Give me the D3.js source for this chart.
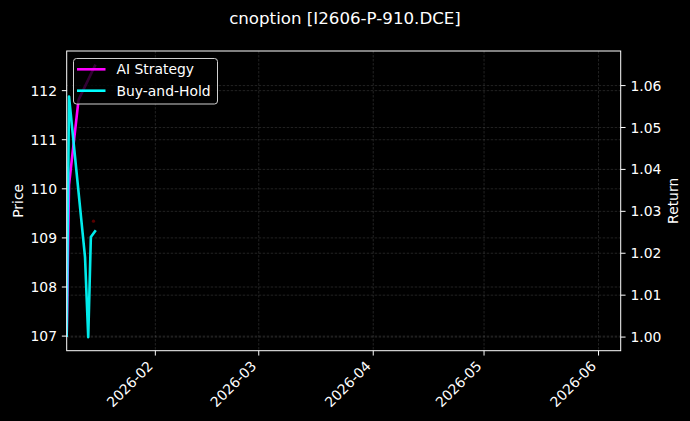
<!DOCTYPE html>
<html><head><meta charset="utf-8">
<script src="https://cdn.jsdelivr.net/npm/d3@7"></script>
<style>html,body{margin:0;padding:0;background:#000;}svg{display:block;font-family:"DejaVu Sans",sans-serif;}</style>
</head><body><svg id="c" width="690" height="421"></svg>
<script>
const chartTitle = "cnoption [I2606-P-910.DCE]";
const seriesNames = ["AI Strategy", "Buy-and-Hold"];
const seriesColors = ["#ff00ff", "#00ffff"];
const xDomainDates = ["2026-01-08T00:00:00Z", "2026-06-07T00:00:00Z"];

const priceDates = ["2026-01-08T00:00:00Z","2026-01-08T15:00:00Z","2026-01-12T23:00:00Z","2026-01-13T20:00:00Z","2026-01-14T13:00:00Z","2026-01-15T06:00:00Z"];
const priceValues = [107.0, 112.53, 109.6, 106.98, 109.0, 109.34];

const aiDates = ["2026-01-08T00:00:00Z","2026-01-08T15:00:00Z","2026-01-11T05:00:00Z","2026-01-15T19:00:00Z"];
const aiValues = [1.0000, 1.0363, 1.0566, 1.0650];

const bhDates = ["2026-01-08T00:00:00Z","2026-01-08T15:00:00Z","2026-01-12T23:00:00Z","2026-01-13T20:00:00Z","2026-01-14T13:00:00Z","2026-01-15T21:00:00Z"];
const bhValues = [1.0000, 1.0574, 1.0191, 1.0000, 1.0239, 1.0255];

const signalDates = ["2026-01-15T06:00:00Z"];
const signalPrices = [109.34];

const priceTicks = [107, 108, 109, 110, 111, 112];
const returnTicks = [1.00, 1.01, 1.02, 1.03, 1.04, 1.05, 1.06];

const W = 690, H = 421;
const m = {left: 66.7, right: 620.7, top: 51, bottom: 350.7};
const svg = d3.select("#c");
svg.append("rect").attr("width", W).attr("height", H).attr("fill", "#000");

const x = d3.scaleUtc().domain(xDomainDates.map(d => new Date(d))).range([m.left, m.right]);
function padded(vals){ const e = d3.extent(vals); const p = (e[1]-e[0])*0.05; return [e[0]-p, e[1]+p]; }
const yL = d3.scaleLinear().domain(padded(priceValues)).range([m.bottom, m.top]);
const yR = d3.scaleLinear().domain(padded(aiValues.concat(bhValues))).range([m.bottom, m.top]);

const monthTicks = d3.utcMonth.every(1).range(x.domain()[0], x.domain()[1]).filter(d => d > x.domain()[0]);

// grid
const grid = svg.append("g").attr("stroke", "#808080").attr("stroke-opacity", 0.45).attr("stroke-width", 0.6).attr("stroke-dasharray", "2.5,1.5");
monthTicks.forEach(t => grid.append("line").attr("x1", x(t)).attr("x2", x(t)).attr("y1", m.top).attr("y2", m.bottom));
priceTicks.forEach(t => grid.append("line").attr("x1", m.left).attr("x2", m.right).attr("y1", yL(t)).attr("y2", yL(t)));
returnTicks.forEach(t => grid.append("line").attr("x1", m.left).attr("x2", m.right).attr("y1", yR(t)).attr("y2", yR(t)));

const clip = svg.append("clipPath").attr("id", "clp").append("rect").attr("x", m.left).attr("y", m.top).attr("width", m.right-m.left).attr("height", m.bottom-m.top);
const plot = svg.append("g").attr("clip-path", "url(#clp)");

const lineL = d3.line().x(d => x(d[0])).y(d => yL(d[1]));
const lineR = d3.line().x(d => x(d[0])).y(d => yR(d[1]));
const zip = (ds, vs) => ds.map((d, i) => [new Date(d), vs[i]]);

plot.append("path").datum(zip(priceDates, priceValues)).attr("d", lineL).attr("fill", "none").attr("stroke", "#000").attr("stroke-width", 2);
plot.selectAll("circle.sig").data(zip(signalDates, signalPrices)).enter().append("circle").attr("class", "sig")
  .attr("cx", d => x(d[0])).attr("cy", d => yL(d[1])).attr("r", 1.6).attr("fill", "#5a0000");
plot.append("path").datum(zip(aiDates, aiValues)).attr("d", lineR).attr("fill", "none").attr("stroke", seriesColors[0]).attr("stroke-width", 2.6).attr("stroke-linejoin", "round");
plot.append("path").datum(zip(bhDates, bhValues)).attr("d", lineR).attr("fill", "none").attr("stroke", seriesColors[1]).attr("stroke-width", 2.6).attr("stroke-linejoin", "round").attr("stroke-opacity", 0.92);

// axes
const tickLen = 4.86, pad = 4.86, fs = 13.9;
const axisG = svg.append("g").attr("fill", "#fff").attr("font-size", fs);
const tk = svg.append("g").attr("stroke", "#fff").attr("stroke-width", 1);
priceTicks.forEach(t => {
  tk.append("line").attr("x1", m.left - tickLen).attr("x2", m.left).attr("y1", yL(t)).attr("y2", yL(t));
  axisG.append("text").attr("x", m.left - tickLen - pad).attr("y", yL(t)).attr("dy", "0.36em").attr("text-anchor", "end").text(d3.format("d")(t));
});
returnTicks.forEach(t => {
  tk.append("line").attr("x1", m.right).attr("x2", m.right + tickLen).attr("y1", yR(t)).attr("y2", yR(t));
  axisG.append("text").attr("x", m.right + tickLen + pad).attr("y", yR(t)).attr("dy", "0.36em").attr("text-anchor", "start").text(d3.format(".2f")(t));
});
monthTicks.forEach(t => {
  tk.append("line").attr("x1", x(t)).attr("x2", x(t)).attr("y1", m.bottom).attr("y2", m.bottom + tickLen);
  const bx = x(t) - 1.5, by = m.bottom + tickLen + pad + 6.5;
  axisG.append("text").attr("transform", `translate(${bx},${by}) rotate(-45)`).attr("text-anchor", "end").text(d3.utcFormat("%Y-%m")(t));
});
svg.append("rect").attr("x", m.left).attr("y", m.top).attr("width", m.right-m.left).attr("height", m.bottom-m.top)
  .attr("fill", "none").attr("stroke", "#fff").attr("stroke-width", 1);

axisG.append("text").attr("transform", `translate(22.5,${(m.top+m.bottom)/2}) rotate(-90)`).attr("text-anchor", "middle").text("Price");
axisG.append("text").attr("transform", `translate(678,${(m.top+m.bottom)/2}) rotate(-90)`).attr("text-anchor", "middle").text("Return");

svg.append("text").attr("x", W/2).attr("y", 24.3).attr("text-anchor", "middle").attr("fill", "#fff").attr("font-size", 16.67).text(chartTitle);

// legend
const lg = svg.append("g");
lg.append("rect").attr("x", 73.5).attr("y", 58.5).attr("width", 144).attr("height", 45.5).attr("rx", 3)
  .attr("fill", "#000").attr("fill-opacity", 0.8).attr("stroke", "#d0d0d0").attr("stroke-width", 1);
seriesNames.forEach((n, i) => {
  const yy = 69.3 + i * 21.4;
  lg.append("line").attr("x1", 77).attr("x2", 105.5).attr("y1", yy).attr("y2", yy).attr("stroke", seriesColors[i]).attr("stroke-width", 2.6);
  lg.append("text").attr("x", 116.5).attr("y", yy).attr("dy", "0.36em").attr("fill", "#fff").attr("font-size", fs).text(n);
});
</script></body></html>
